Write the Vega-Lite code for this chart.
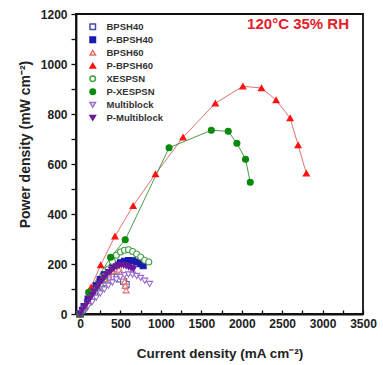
{
  "$schema": "https://vega.github.io/schema/vega-lite/v6.json",
  "width": 287,
  "height": 300,
  "autosize": {"type": "none"},
  "padding": {"left": 76, "top": 14, "right": 20, "bottom": 51},
  "background": "white",
  "config": {
    "view": {"stroke": "#111", "strokeWidth": 1.8},
    "font": "Liberation Sans",
    "axis": {"labelFont": "Liberation Sans", "labelFontWeight": "bold", "labelFontSize": 12, "labelColor": "#222",
      "titleFont": "Liberation Sans", "titleFontWeight": "bold", "titleFontSize": 13.5, "titleColor": "#222",
      "domainColor": "#111", "domainWidth": 1.8, "tickColor": "#111", "tickWidth": 1.3, "grid": false}
  },
  "title": {"text": "120°C 35% RH", "orient": "top", "anchor": "end", "frame": "group", "offset": -24, "dx": -14, "color": "#e5202a", "fontSize": 15, "font": "Liberation Sans", "fontWeight": "bold"},
  "data": {"values": [
    {"s":"BPSH40","x":0,"y":0},{"s":"BPSH40","x":30,"y":15},{"s":"BPSH40","x":60,"y":30},{"s":"BPSH40","x":100,"y":48},{"s":"BPSH40","x":140,"y":65},{"s":"BPSH40","x":180,"y":82},{"s":"BPSH40","x":220,"y":98},{"s":"BPSH40","x":260,"y":112},{"s":"BPSH40","x":300,"y":125},{"s":"BPSH40","x":340,"y":136},{"s":"BPSH40","x":380,"y":144},{"s":"BPSH40","x":420,"y":148},{"s":"BPSH40","x":460,"y":147},{"s":"BPSH40","x":500,"y":140},{"s":"BPSH40","x":540,"y":130},{"s":"BPSH40","x":570,"y":118},
    {"s":"P-BPSH40","x":0,"y":0},{"s":"P-BPSH40","x":50,"y":30},{"s":"P-BPSH40","x":100,"y":60},{"s":"P-BPSH40","x":150,"y":88},{"s":"P-BPSH40","x":200,"y":113},{"s":"P-BPSH40","x":250,"y":138},{"s":"P-BPSH40","x":300,"y":157},{"s":"P-BPSH40","x":350,"y":172},{"s":"P-BPSH40","x":400,"y":185},{"s":"P-BPSH40","x":450,"y":196},{"s":"P-BPSH40","x":500,"y":205},{"s":"P-BPSH40","x":550,"y":211},{"s":"P-BPSH40","x":600,"y":214},{"s":"P-BPSH40","x":650,"y":213},{"s":"P-BPSH40","x":700,"y":208},{"s":"P-BPSH40","x":750,"y":201},{"s":"P-BPSH40","x":780,"y":193},
    {"s":"BPSH60","x":0,"y":0},{"s":"BPSH60","x":50,"y":25},{"s":"BPSH60","x":100,"y":50},{"s":"BPSH60","x":150,"y":75},{"s":"BPSH60","x":200,"y":98},{"s":"BPSH60","x":250,"y":120},{"s":"BPSH60","x":300,"y":140},{"s":"BPSH60","x":350,"y":158},{"s":"BPSH60","x":400,"y":172},{"s":"BPSH60","x":450,"y":180},{"s":"BPSH60","x":480,"y":178},{"s":"BPSH60","x":510,"y":165},{"s":"BPSH60","x":530,"y":150},{"s":"BPSH60","x":550,"y":130},{"s":"BPSH60","x":560,"y":113},{"s":"BPSH60","x":570,"y":95},
    {"s":"P-BPSH60","x":0,"y":0},{"s":"P-BPSH60","x":136,"y":107},{"s":"P-BPSH60","x":255,"y":196},{"s":"P-BPSH60","x":432,"y":311},{"s":"P-BPSH60","x":657,"y":433},{"s":"P-BPSH60","x":933,"y":560},{"s":"P-BPSH60","x":1274,"y":707},{"s":"P-BPSH60","x":1673,"y":843},{"s":"P-BPSH60","x":2014,"y":911},{"s":"P-BPSH60","x":2244,"y":904},{"s":"P-BPSH60","x":2425,"y":856},{"s":"P-BPSH60","x":2598,"y":784},{"s":"P-BPSH60","x":2697,"y":676},{"s":"P-BPSH60","x":2799,"y":563},
    {"s":"XESPSN","x":0,"y":0},{"s":"XESPSN","x":50,"y":20},{"s":"XESPSN","x":100,"y":45},{"s":"XESPSN","x":150,"y":70},{"s":"XESPSN","x":200,"y":95},{"s":"XESPSN","x":250,"y":120},{"s":"XESPSN","x":300,"y":150},{"s":"XESPSN","x":350,"y":180},{"s":"XESPSN","x":400,"y":210},{"s":"XESPSN","x":450,"y":235},{"s":"XESPSN","x":500,"y":248},{"s":"XESPSN","x":550,"y":255},{"s":"XESPSN","x":600,"y":257},{"s":"XESPSN","x":650,"y":250},{"s":"XESPSN","x":700,"y":240},{"s":"XESPSN","x":750,"y":228},{"s":"XESPSN","x":800,"y":215},{"s":"XESPSN","x":850,"y":208},
    {"s":"P-XESPSN","x":0,"y":0},{"s":"P-XESPSN","x":107,"y":87},{"s":"P-XESPSN","x":378,"y":227},{"s":"P-XESPSN","x":559,"y":297},{"s":"P-XESPSN","x":1101,"y":665},{"s":"P-XESPSN","x":1624,"y":735},{"s":"P-XESPSN","x":1833,"y":731},{"s":"P-XESPSN","x":1940,"y":683},{"s":"P-XESPSN","x":2047,"y":619},{"s":"P-XESPSN","x":2105,"y":527},
    {"s":"Multiblock","x":0,"y":0},{"s":"Multiblock","x":50,"y":15},{"s":"Multiblock","x":100,"y":32},{"s":"Multiblock","x":150,"y":48},{"s":"Multiblock","x":200,"y":65},{"s":"Multiblock","x":250,"y":82},{"s":"Multiblock","x":300,"y":98},{"s":"Multiblock","x":350,"y":113},{"s":"Multiblock","x":400,"y":126},{"s":"Multiblock","x":450,"y":138},{"s":"Multiblock","x":500,"y":148},{"s":"Multiblock","x":550,"y":155},{"s":"Multiblock","x":600,"y":158},{"s":"Multiblock","x":650,"y":157},{"s":"Multiblock","x":700,"y":152},{"s":"Multiblock","x":750,"y":144},{"s":"Multiblock","x":800,"y":133},{"s":"Multiblock","x":860,"y":120},
    {"s":"P-Multiblock","x":0,"y":0},{"s":"P-Multiblock","x":30,"y":15},{"s":"P-Multiblock","x":60,"y":30},{"s":"P-Multiblock","x":90,"y":45},{"s":"P-Multiblock","x":120,"y":60},{"s":"P-Multiblock","x":150,"y":75},{"s":"P-Multiblock","x":180,"y":90},{"s":"P-Multiblock","x":210,"y":105},{"s":"P-Multiblock","x":240,"y":120},{"s":"P-Multiblock","x":270,"y":133},{"s":"P-Multiblock","x":300,"y":146},{"s":"P-Multiblock","x":330,"y":157},{"s":"P-Multiblock","x":360,"y":167},{"s":"P-Multiblock","x":390,"y":176},{"s":"P-Multiblock","x":420,"y":184},{"s":"P-Multiblock","x":450,"y":190},{"s":"P-Multiblock","x":480,"y":194},{"s":"P-Multiblock","x":510,"y":196},{"s":"P-Multiblock","x":540,"y":195},{"s":"P-Multiblock","x":570,"y":192},{"s":"P-Multiblock","x":600,"y":188},{"s":"P-Multiblock","x":630,"y":184},{"s":"P-Multiblock","x":660,"y":180}
  ]},
  "encoding": {
    "x": {"field": "x", "type": "quantitative", "scale": {"domain": [-50, 3500], "nice": false, "zero": false},
      "axis": {"title": "Current density (mA cm⁻²)", "values": [0,250,500,750,1000,1250,1500,1750,2000,2250,2500,2750,3000,3250,3500],
        "labelExpr": "datum.value % 500 == 0 ? datum.label : ''", "format": "d", "tickSize": -4, "labelPadding": 8, "titlePadding": 17, "labelFlush": false, "labelOverlap": false}},
    "y": {"field": "y", "type": "quantitative", "scale": {"domain": [0, 1200], "nice": false},
      "axis": {"title": "Power density (mW cm⁻²)", "values": [0,100,200,300,400,500,600,700,800,900,1000,1100,1200],
        "labelExpr": "datum.value % 200 == 0 ? datum.label : ''", "format": "d", "tickSize": 5, "labelPadding": 4, "titlePadding": 8, "titleY": 130, "titleFontSize": 14, "labelFlush": false, "labelOverlap": false}}
  },
  "layer": [
    {
      "mark": {"type": "line", "strokeWidth": 1, "opacity": 0.85},
      "encoding": {
        "color": {"field": "s", "type": "nominal", "legend": null,
          "scale": {"domain": ["P-Multiblock","Multiblock","P-XESPSN","XESPSN","P-BPSH60","BPSH60","P-BPSH40","BPSH40"],
            "range": ["#6a1a9a","#9a6ccc","#2a8a2a","#44a044","#d85a5a","#e07070","#1a1ab0","#4a4aa8"]}},
        "order": {"field": "x", "type": "quantitative"}
      }
    },
    {
      "mark": {"type": "point", "filled": false, "size": 36, "strokeWidth": 1.1, "opacity": 1},
      "encoding": {
        "stroke": {"field": "s", "type": "nominal",
          "scale": {"domain": ["BPSH40","P-BPSH40","BPSH60","P-BPSH60","XESPSN","P-XESPSN","Multiblock","P-Multiblock"],
            "range": ["#4a4aa8","#1a1ab0","#e07070","#ff1010","#44a044","#0a8a0a","#9a6ccc","#6a1a9a"]},
          "legend": {"title": null, "orient": "none", "legendX": 12, "legendY": 8, "labelFont": "Liberation Sans", "labelFontWeight": "bold", "labelFontSize": 9.5, "labelColor": "#333", "rowPadding": 1, "symbolSize": 30, "labelOffset": 9, "padding": 0}},
        "fill": {"field": "s", "type": "nominal",
          "scale": {"domain": ["BPSH40","P-BPSH40","BPSH60","P-BPSH60","XESPSN","P-XESPSN","Multiblock","P-Multiblock"],
            "range": ["#ffffff","#1a1ab0","#ffffff","#ff1010","#ffffff","#0a8a0a","#ffffff","#6a1a9a"]}},
        "shape": {"field": "s", "type": "nominal",
          "scale": {"domain": ["BPSH40","P-BPSH40","BPSH60","P-BPSH60","XESPSN","P-XESPSN","Multiblock","P-Multiblock"],
            "range": ["square","square","triangle-up","triangle-up","circle","circle","triangle-down","triangle-down"]}}
      }
    }
  ]
}
